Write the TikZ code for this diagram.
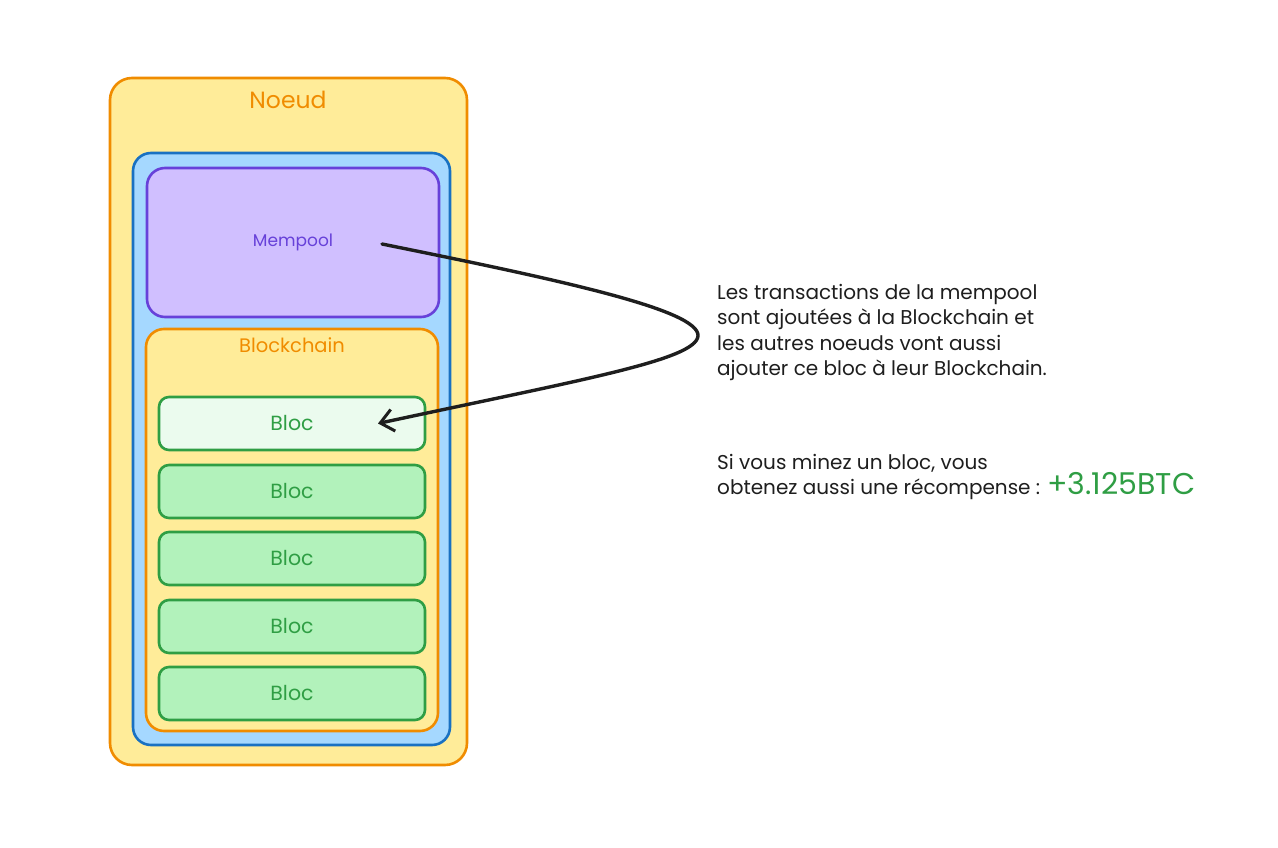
\documentclass[tikz,border=0pt]{standalone}
\usepackage{fontspec}
\setmainfont{Poppins}
\usetikzlibrary{arrows.meta,calc}
\definecolor{orangeS}{HTML}{F08C00}
\definecolor{yellowF}{HTML}{FFEC99}
\definecolor{blueS}{HTML}{1971C2}
\definecolor{blueF}{HTML}{A5D8FF}
\definecolor{violetS}{HTML}{6741D9}
\definecolor{violetF}{HTML}{D0BFFF}
\definecolor{greenS}{HTML}{2F9E44}
\definecolor{greenF}{HTML}{B2F2BB}
\definecolor{greenL}{HTML}{EBFBEE}
\definecolor{ink}{HTML}{1E1E1E}
\begin{document}
\begin{tikzpicture}[x=1pt,y=-1pt,
  box/.style={draw, line width=2.6pt, rounded corners=#1, inner sep=0pt},
  box/.default=18pt,
  lbl/.style={font=\fontsize{#1}{#1}\selectfont},
  blocbox/.style={box=10pt, draw=greenS, fill=greenF, minimum width=266pt, minimum height=53pt,
    text=greenS, font=\fontsize{20.5}{20.5}\selectfont},
  note/.style={text=ink, align=left, inner sep=0pt, anchor=north west,
    font=\fontsize{20}{25.5}\selectfont}
]
\useasboundingbox (0,0) rectangle (1278,848);
\fill[white] (0,0) rectangle (1278,848);

% node container
\node[box=22pt, draw=orangeS, fill=yellowF, minimum width=357pt, minimum height=687pt] (noeud) at (288.5,421.5) {};
\node[text=orangeS, lbl=23.5] (noeudlbl) at (288,100) {Noeud};

% inner blue frame
\node[box, draw=blueS, fill=blueF, minimum width=317pt, minimum height=592pt] (frame) at (291.5,449) {};

% mempool
\node[box, draw=violetS, fill=violetF, minimum width=292pt, minimum height=149pt] (mempool) at (293,242.5) {};
\node[text=violetS, lbl=17] (mempoollbl) at (293,242) {Mempool};

% blockchain
\node[box, draw=orangeS, fill=yellowF, minimum width=292pt, minimum height=402pt] (chain) at (292,530) {};
\node[text=orangeS, lbl=19.5] (chainlbl) at (292,345) {Blockchain};

% blocs
\node[blocbox, fill=greenL] (b1) at (292,423.5) {Bloc};
\node[blocbox] (b2) at (292,491.5) {Bloc};
\node[blocbox] (b3) at (292,558.5) {Bloc};
\node[blocbox] (b4) at (292,626.5) {Bloc};
\node[blocbox] (b5) at (292,693.5) {Bloc};

% explanatory notes
\node[note] (note1) at (717,284) {Les transactions de la mempool\\sont ajoutées à la Blockchain et\\les autres noeuds vont aussi\\ajouter ce bloc à leur Blockchain.};
\node[note] (note2) at (717,454) {Si vous minez un bloc, vous\\obtenez aussi une récompense : {\color{greenS}\fontsize{30}{30}\selectfont+3.125BTC}};

% transfer arrow from the mempool into the newest bloc
\coordinate (src) at ($(mempool.center)+(89,1.5)$);
\coordinate (dst) at ($(b1.center)+(86,0)$);
\draw[ink, line width=3.4pt, line cap=round, line join=round,
      -{Straight Barb[length=13pt,width=22pt,line width=3pt]}]
  (src) .. controls (560,280) and (700,310) .. (698,336)
        .. controls (696,360) and (580,380) .. (dst);
\end{tikzpicture}
\end{document}
